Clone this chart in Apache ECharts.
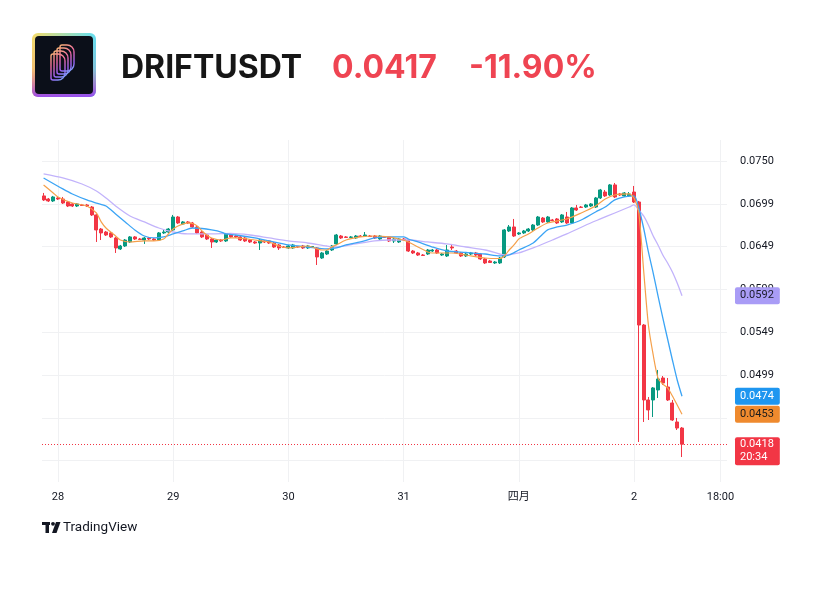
<!DOCTYPE html>
<html><head><meta charset="utf-8">
<script src="https://cdn.jsdelivr.net/npm/echarts@6/dist/echarts.min.js"></script>
<style>html,body{margin:0;padding:0;background:#fff}#c{width:832px;height:608px}</style>
</head><body><div id="c"></div>
<script>
// ---------- DATA ----------
const symbol = 'DRIFTUSDT';
const headerPrice = '0.0417';
const headerChange = '-11.90%';
const countdown = '20:34';
// time in hours counted from 28 Mar 00:00; hourly candles, first candle 27 Mar 21:00
const firstCandleHour = -3;
// [open, close, low, high]
const candles = [
[0.0709,0.07043,0.07031,0.07125],[0.07054,0.07031,0.07019,0.07066],[0.07031,0.07078,0.07019,0.0709],[0.07066,0.07054,0.07043,0.07078],
[0.07054,0.07007,0.06996,0.07078],[0.07019,0.06972,0.0696,0.07031],[0.06996,0.06972,0.0696,0.07007],[0.06972,0.06996,0.0696,0.07007],
[0.06984,0.06978,0.06972,0.06996],[0.06984,0.06972,0.0696,0.06996],[0.0696,0.06867,0.06855,0.06972],[0.06867,0.06691,0.0655,0.06878],
[0.06702,0.06656,0.06573,0.06714],[0.06667,0.06632,0.0662,0.06679],[0.06656,0.06609,0.06597,0.06667],[0.06597,0.0648,0.06421,0.06609],
[0.06468,0.06503,0.06456,0.06515],[0.06503,0.06573,0.06491,0.06585],[0.0655,0.06609,0.06538,0.0662],[0.06609,0.06585,0.06573,0.0662],
[0.06585,0.06579,0.06573,0.06597],[0.06573,0.06597,0.06527,0.06609],[0.06597,0.06585,0.06573,0.06609],[0.06585,0.06573,0.06562,0.06597],
[0.06573,0.06656,0.06562,0.06667],[0.06656,0.06667,0.06644,0.06691],[0.06667,0.06702,0.06656,0.06714],[0.06691,0.06843,0.06679,0.06867],
[0.06843,0.06773,0.06761,0.06855],[0.06761,0.06785,0.06749,0.06796],[0.06785,0.06773,0.06761,0.06796],[0.06773,0.06726,0.06714,0.06785],
[0.06726,0.06656,0.06644,0.06738],[0.06667,0.06609,0.06597,0.06679],[0.06632,0.06585,0.06573,0.06644],[0.06585,0.0655,0.0648,0.06597],
[0.0655,0.06573,0.06538,0.06585],[0.06573,0.06562,0.0655,0.06585],[0.06562,0.06644,0.0655,0.06656],[0.06632,0.06609,0.06597,0.06644],
[0.0662,0.06609,0.06597,0.06632],[0.06609,0.06573,0.06562,0.0662],[0.06597,0.06562,0.0655,0.06609],[0.06573,0.0655,0.06538,0.06585],
[0.0655,0.06538,0.06527,0.06562],[0.06538,0.06573,0.06456,0.06585],[0.06562,0.0655,0.06538,0.06573],[0.06562,0.06538,0.06527,0.06573],
[0.06538,0.06491,0.0648,0.0655],[0.06515,0.0648,0.06456,0.06527],[0.06491,0.06485,0.0648,0.06503],[0.0648,0.06503,0.06468,0.06515],
[0.0648,0.06515,0.06468,0.06527],[0.06497,0.06491,0.0648,0.06503],[0.06503,0.0648,0.06468,0.06515],[0.0648,0.06503,0.06468,0.06515],
[0.06491,0.06497,0.0648,0.06503],[0.0648,0.06374,0.0628,0.06491],[0.06362,0.06421,0.06351,0.06433],[0.06409,0.06444,0.06397,0.06456],
[0.06456,0.06503,0.06444,0.06515],[0.06527,0.06632,0.06515,0.06644],[0.0662,0.06597,0.06585,0.06632],[0.06609,0.06603,0.06597,0.0662],
[0.06603,0.06609,0.06597,0.0662],[0.06597,0.0662,0.06585,0.06632],[0.0662,0.06614,0.06609,0.06632],[0.0662,0.06632,0.06609,0.06667],
[0.0662,0.06614,0.06609,0.06632],[0.0662,0.06597,0.06585,0.06632],[0.06585,0.0662,0.06573,0.06632],[0.06609,0.06603,0.06597,0.0662],
[0.06609,0.06562,0.0655,0.0662],[0.06562,0.06585,0.06538,0.06597],[0.0655,0.06585,0.06538,0.06597],[0.06585,0.06573,0.06562,0.06597],
[0.06573,0.06444,0.06433,0.06585],[0.06444,0.06421,0.06409,0.06456],[0.06421,0.06397,0.06386,0.06433],[0.06397,0.06392,0.06386,0.06409],
[0.06409,0.06456,0.06397,0.06468],[0.06444,0.06456,0.06433,0.06468],[0.06456,0.06421,0.06409,0.06468],[0.06397,0.06409,0.06386,0.06421],
[0.06386,0.06456,0.06374,0.06515],[0.06491,0.0648,0.06456,0.06527],[0.06444,0.06421,0.06409,0.06456],[0.06421,0.06386,0.06374,0.06433],
[0.06386,0.06409,0.06374,0.06421],[0.06409,0.06421,0.06397,0.06433],[0.06421,0.06397,0.06386,0.06433],[0.06409,0.06351,0.06339,0.06421],
[0.06351,0.06304,0.06292,0.06362],[0.06327,0.06309,0.06304,0.06339],[0.06304,0.06315,0.06292,0.06327],[0.06304,0.06362,0.06292,0.06374],
[0.06374,0.06691,0.06362,0.06702],[0.06679,0.06726,0.06667,0.06749],[0.06726,0.0662,0.06609,0.0682],[0.06644,0.06656,0.06632,0.06667],
[0.06656,0.06679,0.06644,0.06691],[0.06679,0.06702,0.06667,0.06714],[0.06691,0.06749,0.06679,0.06761],[0.06749,0.06843,0.06738,0.06855],
[0.06831,0.06785,0.06773,0.06843],[0.06785,0.06843,0.06773,0.06855],[0.06808,0.06802,0.06796,0.0682],[0.0682,0.06773,0.06761,0.06831],
[0.06785,0.06867,0.06773,0.06878],[0.06843,0.06773,0.06761,0.06902],[0.06773,0.06949,0.06761,0.0696],[0.06949,0.06925,0.06914,0.06984],
[0.0696,0.06955,0.06949,0.06972],[0.0696,0.06984,0.06949,0.06996],[0.06972,0.06996,0.0696,0.07007],[0.0696,0.07066,0.06949,0.07078],
[0.07066,0.0716,0.07054,0.07172],[0.07136,0.0709,0.07078,0.0716],[0.07101,0.07219,0.0709,0.0723],[0.07219,0.07078,0.07066,0.07242],
[0.07113,0.07101,0.0709,0.07125],[0.0709,0.07125,0.07078,0.07136],[0.0709,0.07113,0.07078,0.07136],[0.07136,0.07019,0.07007,0.07207],
[0.07019,0.05576,0.04204,0.07031],[0.05576,0.04697,0.04439,0.05588],[0.04697,0.0458,0.04462,0.04732],[0.04697,0.04838,0.04497,0.04849],
[0.04814,0.04943,0.0472,0.05049],[0.04955,0.04896,0.04873,0.04978],[0.04849,0.04697,0.04685,0.04955],[0.04662,0.04462,0.04451,0.04697],
[0.04439,0.04368,0.04345,0.04486],[0.04368,0.04178,0.04028,0.0438]
];
// moving-average lines: [candle index, value]
const maFast = [[0,0.07219],[2,0.07125],[3,0.07078],[6,0.07007],[9,0.06972],[11,0.0689],[12,0.06785],[13,0.06714],[15,0.0662],[16,0.06573],
[18,0.0655],[21,0.06562],[23,0.06562],[25,0.06585],[26,0.06644],[27,0.06702],[28,0.06738],[30,0.06773],[31,0.06767],[32,0.06738],
[33,0.06679],[34,0.06632],[35,0.06597],[37,0.06573],[39,0.06597],[40,0.06597],[44,0.06573],[47,0.0655],[49,0.06503],[51,0.0648],
[53,0.06491],[55,0.06503],[58,0.06456],[59,0.06456],[60,0.06491],[61,0.06515],[63,0.06573],[66,0.06609],[69,0.0662],[72,0.06609],
[74,0.06585],[76,0.0655],[78,0.06491],[80,0.06433],[81,0.06421],[85,0.06421],[88,0.06397],[92,0.06362],[95,0.06356],[96,0.06386],
[97,0.06456],[98,0.06515],[99,0.06585],[101,0.06644],[103,0.06714],[105,0.06773],[109,0.0682],[112,0.0689],[115,0.06972],[117,0.07054],
[119,0.07101],[122,0.07113],[123,0.07066],[124,0.0689],[125,0.06222],[126,0.05576],[127,0.05225],[128,0.04955],[129,0.04884],[130,0.04838],
[131,0.04744],[132,0.04638],[133,0.0453]];
const maMid = [[0,0.07301],[4,0.07172],[6,0.07113],[9,0.07043],[11,0.07007],[13,0.06972],[15,0.06878],[17,0.06785],[19,0.06691],[21,0.0662],
[23,0.06597],[25,0.06609],[27,0.06644],[29,0.06679],[31,0.06714],[33,0.06708],[35,0.06691],[37,0.06667],[38,0.06644],[40,0.06632],
[44,0.06597],[47,0.06562],[51,0.06515],[55,0.06491],[59,0.06468],[61,0.0648],[63,0.06515],[66,0.0655],[69,0.06597],[72,0.06609],
[75,0.06609],[76,0.06585],[78,0.0655],[81,0.06491],[84,0.06444],[88,0.06427],[92,0.06409],[95,0.06386],[96,0.06386],[97,0.06397],
[99,0.06456],[102,0.06538],[104,0.06644],[105,0.06691],[107,0.06726],[109,0.06749],[112,0.06808],[115,0.06902],[117,0.0696],[119,0.07043],
[121,0.07078],[123,0.0709],[124,0.06949],[125,0.06714],[126,0.06433],[127,0.06186],[128,0.05917],[129,0.05659],[130,0.05412],[131,0.05166],
[132,0.04931],[133,0.0474]];
const maSlow = [[0,0.07348],[4,0.07301],[8,0.0723],[11,0.07148],[13,0.07066],[15,0.06972],[18,0.06855],[21,0.06785],[24,0.06714],[27,0.06667],
[30,0.06644],[35,0.06644],[39,0.0665],[43,0.06632],[47,0.06597],[51,0.06562],[55,0.06538],[59,0.06503],[61,0.06491],[65,0.06527],
[69,0.06562],[72,0.06573],[76,0.06573],[80,0.0655],[84,0.06527],[88,0.06491],[92,0.06456],[95,0.06409],[96,0.06397],[99,0.06421],
[102,0.0648],[106,0.06573],[109,0.06644],[113,0.06749],[116,0.0682],[119,0.0689],[122,0.0696],[123,0.06984],[124,0.06925],[125,0.06855],
[126,0.06749],[127,0.0662],[128,0.06515],[129,0.06397],[130,0.06304],[131,0.06198],[132,0.06069],[133,0.0592]];
const priceTicks = [0.03986, 0.04488, 0.0499, 0.05492, 0.05994, 0.06496, 0.06998, 0.0750];
const timeTicks = [0, 24, 48, 72, 96, 120, 138];   // hours from 28 Mar 00:00
const timeTickLabels = ['28', '29', '30', '31', '四月', '2', '18:00'];

// ---------- STYLE ----------
const UP = '#089981', DOWN = '#f23645';
const C_FAST = '#f5a04a', C_MID = '#3ba4f5', C_SLOW = '#c2b3fb';
const B_FAST = '#ef8a2e', B_MID = '#1e96f0', B_SLOW = '#a99cf6';
const FONT = 'Roboto, "Noto Sans CJK SC", sans-serif';

const tOf = i => firstCandleHour + i;
const candleData = candles.map((c, i) => [tOf(i), c[0], c[1], c[2], c[3]]);
const toLine = arr => arr.map(p => [tOf(p[0]), p[1]]);
const fmtAxis = v => (Math.floor(v * 10000 + 1e-6) / 10000).toFixed(4);
const fmtBadge = v => v.toFixed(4);
const lastClose = candles[candles.length - 1][1];
const lastOf = arr => arr[arr.length - 1][1];

function badgeItem(value, bg, fg, text, extraLabel, line) {
  return {
    yAxis: value,
    lineStyle: line || { color: 'rgba(0,0,0,0)', width: 1 },
    label: Object.assign({ show: true, position: 'end', distance: 8, formatter: text, backgroundColor: bg, color: fg,
      padding: [2, 6, 2, 5], borderRadius: 2, fontSize: 11, fontFamily: FONT, lineHeight: 13 }, extraLabel || {})
  };
}

const chart = echarts.init(document.getElementById('c'), null, { renderer: 'canvas' });
const logoGrad = new echarts.graphic.LinearGradient(0, 0, 1, 0, [
  { offset: 0, color: '#f4dc6a' }, { offset: 1, color: '#62dff2' }]);
const logoGrad2 = new echarts.graphic.LinearGradient(0, 0, 0, 1, [
  { offset: 0, color: 'rgba(240,80,130,0)' }, { offset: 0.55, color: 'rgba(240,80,130,0.2)' }, { offset: 1, color: 'rgba(150,70,240,0.95)' }]);
const glyphGrad = new echarts.graphic.LinearGradient(0, 0, 1, 1, [
  { offset: 0, color: '#f9c86a' }, { offset: 0.4, color: '#ef6aa0' }, { offset: 0.7, color: '#9a62f6' }, { offset: 1, color: '#63d3f6' }]);
const glyph = [];
for (let k = 0; k < 4; k++) {
  glyph.push({ type: 'rect', shape: { x: 51 + k * 3, y: 54 - k * 3, width: 14, height: 26, r: [2, 7, 7, 2] },
    style: { fill: 'none', stroke: glyphGrad, lineWidth: 1.4 } });
}

chart.setOption({
  animation: false,
  backgroundColor: '#ffffff',
  grid: { left: 42, right: 105, top: 140, bottom: 126 },
  xAxis: {
    type: 'value',
    min: -3.333, max: 139.375,
    axisLine: { show: false }, axisTick: { show: false, customValues: timeTicks },
    splitLine: { show: true, lineStyle: { color: '#f0f1f3', width: 1 } },
    axisLabel: { customValues: timeTicks, margin: 10, color: '#131722', fontSize: 11, fontFamily: FONT,
      formatter: v => { let best = 0; timeTicks.forEach((t, i) => { if (Math.abs(t - v) < Math.abs(timeTicks[best] - v)) best = i; }); return timeTickLabels[best]; } }
  },
  yAxis: {
    type: 'value', position: 'right',
    min: 0.03735, max: 0.07746,
    axisLine: { show: false }, axisTick: { show: false, customValues: priceTicks },
    splitLine: { show: true, lineStyle: { color: '#f0f1f3', width: 1 } },
    axisLabel: { customValues: priceTicks, margin: 13, color: '#131722', fontSize: 11, fontFamily: FONT, formatter: fmtAxis }
  },
  series: [
    { type: 'candlestick', data: candleData, barWidth: 3.6, z: 2,
      itemStyle: { color: UP, color0: DOWN, borderColor: UP, borderColor0: DOWN, borderWidth: 1 } },
    { type: 'line', data: toLine(maSlow), showSymbol: false, smooth: 0.25, lineStyle: { color: C_SLOW, width: 1.3 }, z: 3 },
    { type: 'line', data: toLine(maMid), showSymbol: false, smooth: 0.25, lineStyle: { color: C_MID, width: 1.3 }, z: 3 },
    { type: 'line', data: toLine(maFast), showSymbol: false, smooth: 0.25, lineStyle: { color: C_FAST, width: 1.2 }, z: 3,
      markLine: {
        symbol: ['none', 'none'], silent: true, animation: false, precision: 5,
        data: [
          badgeItem(lastOf(maSlow), B_SLOW, '#1b1b2a', fmtBadge(lastOf(maSlow))),
          badgeItem(lastOf(maMid), B_MID, '#ffffff', fmtBadge(lastOf(maMid))),
          badgeItem(lastOf(maFast), B_FAST, '#1b1b1b', fmtBadge(lastOf(maFast))),
          badgeItem(lastClose, DOWN, '#ffffff', fmtBadge(lastClose) + '\n' + countdown,
            { offset: [0, 7], padding: [1, 6, 1, 5] },
            { color: DOWN, width: 1, type: [1, 2] })
        ]
      } }
  ],
  graphic: [
    { type: 'rect', shape: { x: 32, y: 33, width: 64, height: 64, r: 6 }, style: { fill: logoGrad } },
    { type: 'rect', shape: { x: 32, y: 33, width: 64, height: 64, r: 6 }, style: { fill: logoGrad2 } },
    { type: 'rect', shape: { x: 35, y: 36, width: 58, height: 58, r: 4 }, style: { fill: '#0b0f19' } },
    ...glyph,
    { type: 'text', left: 121, top: 52, style: { text: symbol, fontSize: 32, fontWeight: 'bold', fontFamily: 'Inter, Roboto, sans-serif', fill: '#161616' } },
    { type: 'text', left: 332, top: 52, style: { text: headerPrice, fontSize: 32, fontWeight: 'bold', fontFamily: 'Inter, Roboto, sans-serif', fill: '#ef4452' } },
    { type: 'text', left: 469, top: 52, style: { text: headerChange, fontSize: 32, fontWeight: 'bold', fontFamily: 'Inter, Roboto, sans-serif', fill: '#ef4452' } },
    { type: 'rect', shape: { x: 42, y: 522, width: 8, height: 3 }, style: { fill: '#131722' } },
    { type: 'rect', shape: { x: 45.5, y: 522, width: 3.5, height: 11 }, style: { fill: '#131722' } },
    { type: 'circle', shape: { cx: 53, cy: 523.8, r: 1.9 }, style: { fill: '#131722' } },
    { type: 'polygon', shape: { points: [[56, 522], [60.5, 522], [56.5, 533], [52, 533]] }, style: { fill: '#131722' } },
    { type: 'text', left: 63, top: 521, style: { text: 'TradingView', fontSize: 13.5, fontFamily: 'Roboto, sans-serif', fill: '#131722' } }
  ]
});
</script></body></html>
